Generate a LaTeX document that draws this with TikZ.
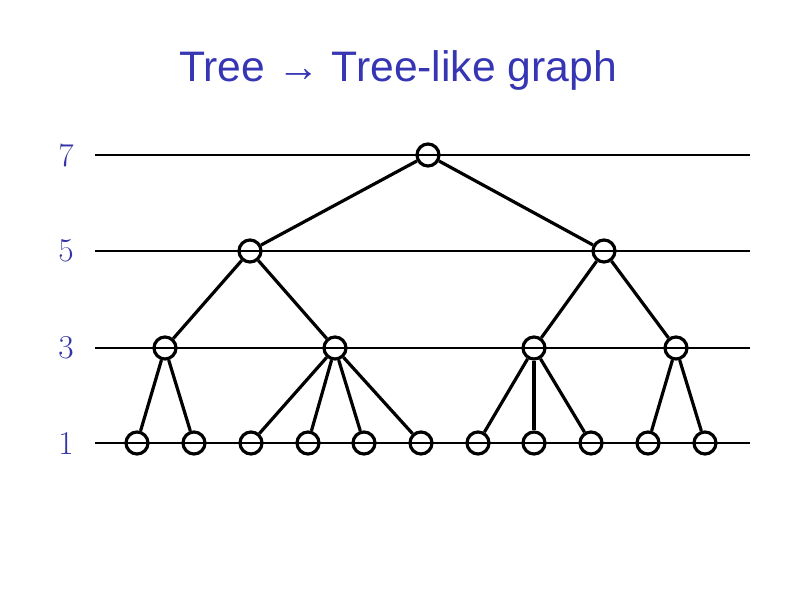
\documentclass[tikz,border=0pt]{standalone}
\usepackage{fontspec}
\newfontfamily\titlefont{Liberation Sans}
\usetikzlibrary{positioning}
\definecolor{ttlblue}{HTML}{3636B4}
\definecolor{lvlblue}{HTML}{3434A6}

\begin{document}
\begin{tikzpicture}[
  x=0.75pt, y=-0.75pt,
  vtx/.style={draw=black, line width=2.4pt, circle, minimum size=16.5pt, inner sep=0pt},
  edge/.style={black, line width=2.4pt},
  level/.style={black, line width=0.9pt},
  lvlnum/.style={font=\fontsize{25}{28}\selectfont, text=lvlblue, anchor=center},
  ttl/.style={font=\titlefont\fontsize{32}{37}\selectfont, text=ttlblue},
]
\useasboundingbox (0,0) rectangle (794,595);

% ================= title ===========================================
\node[ttl] (title) at (398,70) {Tree \textrightarrow{} Tree-like graph};

% ================= levels ==========================================
\foreach \lv/\yy in {7/155,5/251,3/348,1/443}{
  \node[lvlnum] (num\lv) at (66,\yy) {\lv};
  \coordinate (lineA\lv) at (95,\yy);
  \coordinate (lineB\lv) at (750,\yy);
}

% ================= tree ============================================
\node[vtx] (top) at (428,155) {};

\node[vtx] (l) at (250,251) {};
\node[vtx] (r) at (604,251) {};

\node[vtx] (ll) at (165,348) {};
\node[vtx] (lr) at (335,348) {};
\node[vtx] (rl) at (534,348) {};
\node[vtx] (rr) at (676,348) {};

\node[vtx] (ll1) at (137,443) {};
\node[vtx] (ll2) at (194,443) {};
\node[vtx] (lr1) at (251,443) {};
\node[vtx] (lr2) at (308,443) {};
\node[vtx] (lr3) at (364,443) {};
\node[vtx] (lr4) at (421,443) {};
\node[vtx] (rl1) at (478,443) {};
\node[vtx] (rl2) at (534,443) {};
\node[vtx] (rl3) at (591,443) {};
\node[vtx] (rr1) at (648,443) {};
\node[vtx] (rr2) at (705,443) {};

% level lines run through the vertices
\foreach \lv in {7,5,3,1}
  \draw[level] (lineA\lv) -- (lineB\lv);

% ================= edges ===========================================
\foreach \a/\b in {top/l,top/r,l/ll,l/lr,r/rl,r/rr,
                   ll/ll1,ll/ll2,lr/lr1,lr/lr2,lr/lr3,lr/lr4,
                   rl/rl1,rl/rl2,rl/rl3,rr/rr1,rr/rr2}
  \draw[edge] (\a) -- (\b);

\end{tikzpicture}
\end{document}
